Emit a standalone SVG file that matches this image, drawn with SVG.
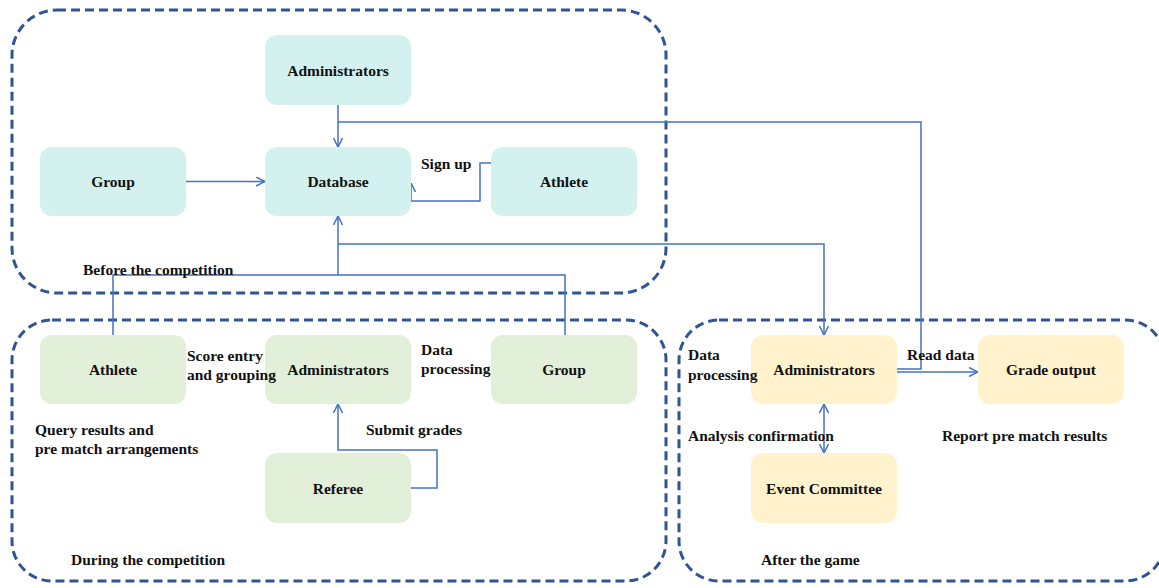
<svg xmlns="http://www.w3.org/2000/svg" width="1159" height="588" viewBox="0 0 1159 588">
<defs>
<style>
.frame{fill:none;stroke:#2F5597;stroke-width:3;stroke-dasharray:9 5}
.n rect{stroke:none}
.c1 rect{fill:#D3F2EF}
.c2 rect{fill:#E2F0D9}
.c3 rect{fill:#FFF2CC}
text{font-family:"Liberation Serif","Times New Roman",serif;font-weight:bold;font-size:15.5px;fill:#111}
.m{text-anchor:middle;dominant-baseline:central}
.lbl{dominant-baseline:central}
#connectors path{fill:none;stroke:#4472C4;stroke-width:1.5}
</style>
<marker id="arr" viewBox="0 0 10 10" refX="10" refY="5" markerWidth="10" markerHeight="10" markerUnits="userSpaceOnUse" orient="auto-start-reverse">
<path d="M1,0.5 L10,5 L1,9.5" fill="none" stroke="#4472C4" stroke-width="1.5"/>
</marker>
</defs>
<rect width="1159" height="588" fill="#fff"/>
<g id="frames">
<rect class="frame" x="12" y="10" width="654" height="283" rx="45"/>
<rect class="frame" x="12" y="320" width="654" height="261" rx="40"/>
<rect class="frame" x="679" y="320" width="486" height="261" rx="40"/>
</g>
<g id="connectors">
<path d="M338,105 V147" marker-end="url(#arr)"/>
<path d="M338,122 H921 V369 H897"/>
<path d="M897,372 H978" marker-end="url(#arr)"/>
<path d="M186,181.5 H265" marker-end="url(#arr)"/>
<path d="M491,163 H480 V201 H411 V183" marker-end="url(#arr)"/>
<path d="M338,275 V216" marker-end="url(#arr)"/>
<path d="M113,335 V275 H565 V335"/>
<path d="M338,244 H824 V335" marker-end="url(#arr)"/>
<path d="M411,488 H437 V450 H338 V404" marker-end="url(#arr)"/>
<path d="M824,404 V453" marker-start="url(#arr)" marker-end="url(#arr)"/>
</g>
<g id="admin-top" class="n c1"><rect x="265" y="35" width="146" height="70" rx="12"/><text class="m" x="338" y="70">Administrators</text></g>
<g id="group-top" class="n c1"><rect x="40" y="147" width="146" height="69" rx="12"/><text class="m" x="113" y="181">Group</text></g>
<g id="database" class="n c1"><rect x="265" y="147" width="146" height="69" rx="12"/><text class="m" x="338" y="181">Database</text></g>
<g id="athlete-top" class="n c1"><rect x="491" y="147" width="146" height="69" rx="12"/><text class="m" x="564" y="181">Athlete</text></g>
<g id="athlete-mid" class="n c2"><rect x="40" y="335" width="146" height="69" rx="12"/><text class="m" x="113" y="369">Athlete</text></g>
<g id="admin-mid" class="n c2"><rect x="265" y="335" width="146" height="69" rx="12"/><text class="m" x="338" y="369">Administrators</text></g>
<g id="group-mid" class="n c2"><rect x="491" y="335" width="146" height="69" rx="12"/><text class="m" x="564" y="369">Group</text></g>
<g id="referee" class="n c2"><rect x="265" y="453" width="146" height="70" rx="12"/><text class="m" x="338" y="488">Referee</text></g>
<g id="admin-after" class="n c3"><rect x="751" y="335" width="146" height="69" rx="12"/><text class="m" x="824" y="369">Administrators</text></g>
<g id="grade-output" class="n c3"><rect x="978" y="335" width="146" height="69" rx="12"/><text class="m" x="1051" y="369">Grade output</text></g>
<g id="event-committee" class="n c3"><rect x="751" y="453" width="146" height="70" rx="12"/><text class="m" x="824" y="488">Event Committee</text></g>
<g id="labels">
<text class="lbl" x="421" y="163">Sign up</text>
<text class="lbl" x="83" y="269">Before the competition</text>
<text class="lbl" x="187" y="355">Score entry</text>
<text class="lbl" x="187" y="374">and grouping</text>
<text class="lbl" x="421" y="349">Data</text>
<text class="lbl" x="421" y="368">processing</text>
<text class="lbl" x="35" y="429">Query results and</text>
<text class="lbl" x="35" y="448">pre match arrangements</text>
<text class="lbl" x="366" y="429">Submit grades</text>
<text class="lbl" x="71" y="559">During the competition</text>
<text class="lbl" x="688" y="354">Data</text>
<text class="lbl" x="688" y="374">processing</text>
<text class="lbl" x="907" y="354">Read data</text>
<text class="lbl" x="688" y="435">Analysis confirmation</text>
<text class="lbl" x="942" y="435">Report pre match results</text>
<text class="lbl" x="761" y="559">After the game</text>
</g>
</svg>
